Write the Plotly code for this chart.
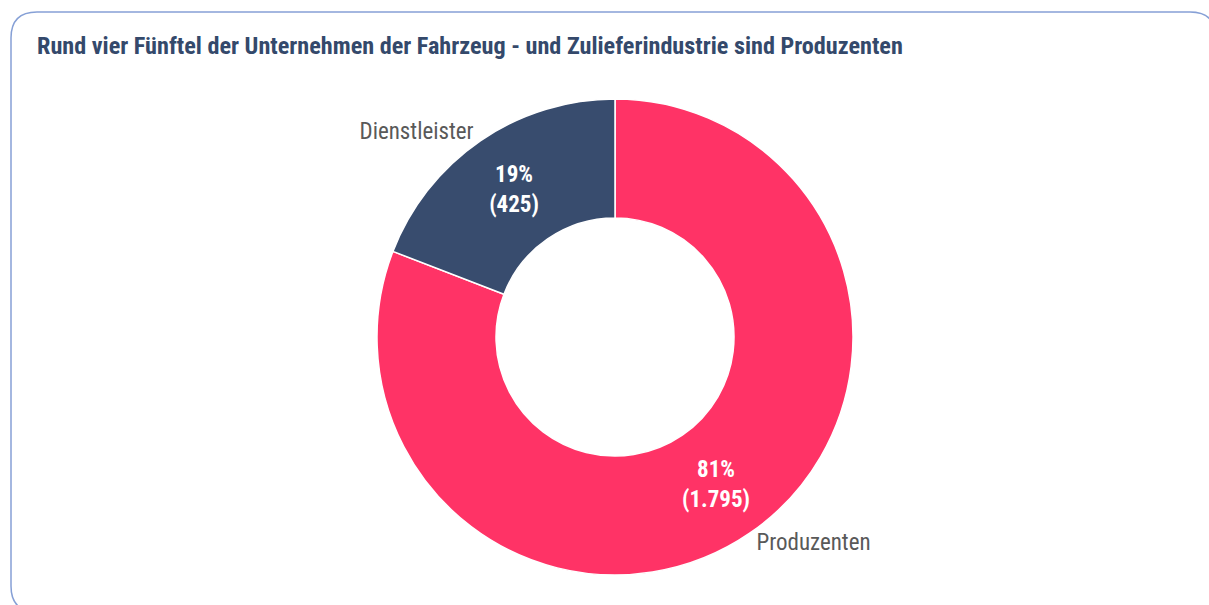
import plotly.graph_objects as go

categories = ["Produzenten", "Dienstleister"]
values = [1795, 425]
colors = ["#FF3366", "#384C6E"]
title_text = "Rund vier Fünftel der Unternehmen der Fahrzeug - und Zulieferindustrie sind Produzenten"

W, H = 1209, 605
FONT = "Roboto Condensed, Arial Narrow, sans-serif"

# pie domain (pixels -> paper)
cx, cy, R = 615, 337, 238
dom_x = [(cx - R) / W, (cx + R) / W]
dom_y = [1 - (cy + R) / H, 1 - (cy - R) / H]

fig = go.Figure()
fig.add_trace(go.Pie(
    labels=categories, values=values, sort=False, direction="clockwise", rotation=0,
    hole=0.5, domain=dict(x=dom_x, y=dom_y),
    marker=dict(colors=colors, line=dict(color="white", width=1.5)),
    texttemplate="<b>%{percent:.0%}<br>(%{value:,})</b>", textposition="inside",
    insidetextorientation="horizontal",
    textfont=dict(family=FONT, size=23, color="white"),
    showlegend=False, hoverinfo="label+value+percent",
))
fig.add_trace(go.Pie(
    labels=categories, values=values, sort=False, direction="clockwise", rotation=0,
    hole=0.5, domain=dict(x=dom_x, y=dom_y),
    marker=dict(colors=["rgba(0,0,0,0)"] * len(values), line=dict(width=0)),
    texttemplate="%{label}", textposition="outside",
    textfont=dict(family=FONT, size=23, color="#595959"),
    showlegend=False, hoverinfo="skip",
))

# rounded border frame
x0, y0 = 11 / W, 1 - 12 / H
x1, y1 = 1216 / W, 1 - 612 / H
rx, ry = 26 / W, 26 / H
path = (f"M {x0+rx},{y0} L {x1-rx},{y0} Q {x1},{y0} {x1},{y0-ry} "
        f"L {x1},{y1+ry} Q {x1},{y1} {x1-rx},{y1} L {x0+rx},{y1} Q {x0},{y1} {x0},{y1+ry} "
        f"L {x0},{y0-ry} Q {x0},{y0} {x0+rx},{y0} Z")
fig.add_shape(type="path", path=path, xref="paper", yref="paper",
              line=dict(color="#86A0D6", width=1.5))

fig.add_annotation(text=f"<b>{title_text}</b>", x=35 / W, y=1 - 30 / H, xref="paper", yref="paper",
                   xanchor="left", yanchor="top", showarrow=False,
                   font=dict(family=FONT, size=24.2, color="#34496B"))

fig.update_layout(width=W, height=H, margin=dict(l=0, r=0, t=0, b=0),
                  paper_bgcolor="white", plot_bgcolor="white", separators=",.",
                  font=dict(family=FONT))
fig.write_html("out.html", config={"displayModeBar": False},
               post_script="document.body.style.margin='0';")
